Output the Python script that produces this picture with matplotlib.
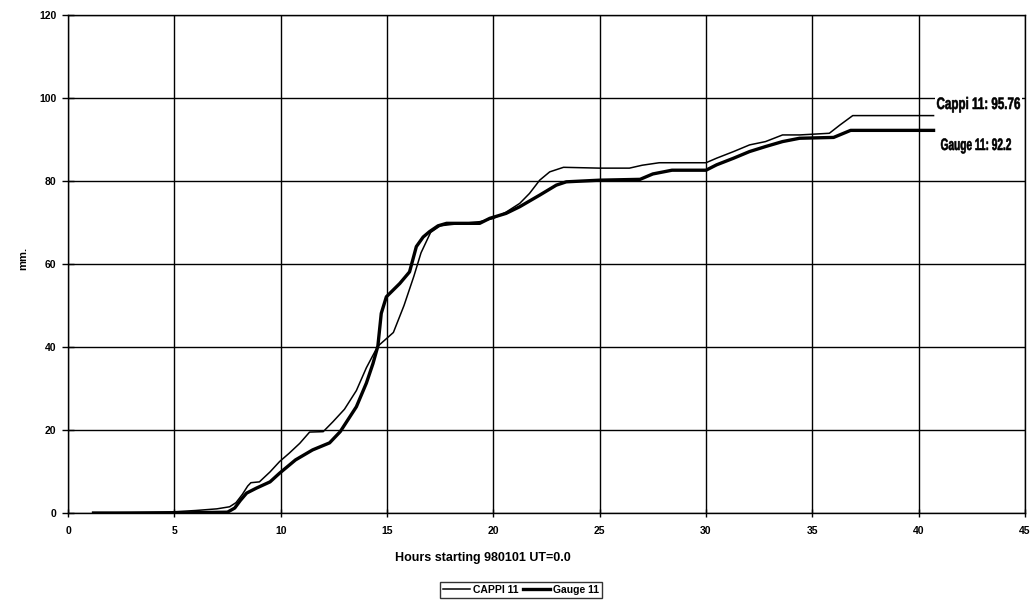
import matplotlib
matplotlib.use("Agg")
import matplotlib.pyplot as plt
from matplotlib.textpath import TextPath
from matplotlib.patches import PathPatch, Rectangle
from matplotlib.font_manager import FontProperties
from matplotlib.transforms import Affine2D, IdentityTransform

# ---- data ----
cappi_hours = [1.2, 3.0, 5.0, 6.0, 7.0, 7.6, 7.9, 8.2, 8.45, 8.6, 9.0, 9.5, 9.95, 10.4,
               10.9, 11.36, 12.0, 12.46, 13.0, 13.56, 14.03, 14.34, 14.57, 14.97, 15.3,
               15.8, 16.26, 16.6, 17.05, 17.5, 18.0, 19.36, 20.0, 20.6, 21.24, 21.7,
               22.18, 22.65, 23.3, 25.0, 26.4, 27.0, 27.8, 30.0, 30.5, 31.3, 32.05,
               32.8, 33.6, 34.4, 35.8, 36.3, 36.9, 40.7]
cappi_mm = [0, 0.1, 0.3, 0.6, 1.0, 1.5, 2.5, 4.5, 6.5, 7.3, 7.5, 9.9, 12.4, 14.4,
            16.8, 19.5, 19.6, 22.0, 25.0, 29.5, 35.0, 38.0, 40.2, 42.0, 43.5,
            50.0, 57.0, 62.7, 67.6, 69.2, 69.5, 70.2, 71.0, 72.5, 74.6, 77.0,
            80.2, 82.2, 83.3, 83.1, 83.1, 83.8, 84.4, 84.4, 85.5, 87.1, 88.7,
            89.5, 91.1, 91.1, 91.5, 93.5, 95.76, 95.76]

gauge_hours = [1.2, 5.0, 7.5, 7.84, 8.1, 8.4, 8.86, 9.5, 9.95, 10.7, 11.5, 12.3, 12.8,
               13.56, 14.03, 14.34, 14.57, 14.73, 14.97, 15.6, 16.06, 16.38, 16.7, 17.0,
               17.4, 17.8, 19.36, 19.83, 20.6, 21.24, 22.18, 22.96, 23.43, 25.0, 26.9,
               27.5, 28.4, 30.0, 30.5, 31.3, 32.05, 32.8, 33.6, 34.4, 36.0, 36.8, 40.7]
gauge_mm = [0, 0, 0.2, 1.2, 3.0, 4.8, 6.0, 7.5, 9.6, 12.8, 15.2, 16.9, 19.6,
            25.6, 31.3, 36.0, 40.2, 48.1, 52.1, 55.3, 58.1, 64.2, 66.5, 67.8,
            69.2, 69.8, 69.8, 71.0, 72.2, 73.8, 76.6, 79.0, 79.8, 80.2, 80.4,
            81.7, 82.6, 82.6, 83.9, 85.5, 87.1, 88.3, 89.5, 90.3, 90.5, 92.2, 92.2]

series_names = ["CAPPI 11", "Gauge 11"]
end_labels = ["Cappi 11: 95.76", "Gauge 11: 92.2"]
x_ticks = [0, 5, 10, 15, 20, 25, 30, 35, 40, 45]
y_ticks = [0, 20, 40, 60, 80, 100, 120]
x_label = "Hours starting 980101 UT=0.0"
y_label = "mm."

# ---- figure ----
W, H = 1033, 609
fig = plt.figure(figsize=(W / 100, H / 100), dpi=100)
ax = fig.add_axes([68 / W, (H - 513) / H, (1025 - 68) / W, (513 - 15) / H])

ax.plot(cappi_hours, cappi_mm, color="black", lw=1.1, label=series_names[0],
        solid_joinstyle="round")
ax.plot(gauge_hours, gauge_mm, color="black", lw=2.4, label=series_names[1],
        solid_joinstyle="round")

ax.set_xlim(0, 45)
ax.set_ylim(0, 120)
ax.set_xticks(x_ticks)
ax.set_yticks(y_ticks)
ax.grid(True, color="black", lw=1.0)
ax.set_axisbelow(True)
for s in ax.spines.values():
    s.set_color("black")
    s.set_linewidth(1.0)
ax.tick_params(axis="y", direction="inout", length=9, width=1.0, pad=4)
ax.tick_params(axis="x", direction="inout", length=6, width=1.0, pad=6)
for lab in ax.get_xticklabels() + ax.get_yticklabels():
    lab.set_fontfamily("Liberation Sans")
    lab.set_fontweight("bold")
    lab.set_fontsize(7.5)

# condensed end-of-line labels (drawn as squeezed text outlines)
fp = FontProperties(family="Liberation Sans", weight="bold")


def squeezed_label(s, left_px, cap_top_px, width_px, cap_px):
    tp = TextPath((0, 0), s, size=100, prop=fp)
    ext = tp.get_extents()
    sy = cap_px / 72.0
    sx = width_px / ext.width
    base = H - (cap_top_px + cap_px)
    bg = Rectangle((left_px - 2, base - 0.23 * 100 * sy), width_px + 4,
                   cap_px + 0.23 * 100 * sy + 2, transform=IdentityTransform(),
                   facecolor="white", edgecolor="none", zorder=3)
    fig.add_artist(bg)
    tr = Affine2D().translate(-ext.x0, 0).scale(sx, sy).translate(left_px, base)
    fig.add_artist(PathPatch(tp, transform=tr, facecolor="black",
                             edgecolor="black", lw=0.4, zorder=4))


squeezed_label(end_labels[0], 937, 97, 83, 12)
squeezed_label(end_labels[1], 941, 138, 70, 12)

fig.text(483 / W, 1 - 558 / H, x_label, ha="center", va="center",
         fontsize=9, fontweight="bold", family="Liberation Sans")
fig.text(23 / W, 1 - 258 / H, y_label, ha="center", va="center", rotation=90,
         fontsize=8, fontweight="bold", family="Liberation Sans")

leg = fig.legend(loc="center", bbox_to_anchor=(521 / W, 1 - 590 / H), ncol=2,
                 frameon=True, fancybox=False, handlelength=2.6, handletextpad=0.3,
                 columnspacing=0.4, borderpad=0.25, borderaxespad=0,
                 prop={"family": "Liberation Sans", "weight": "bold", "size": 7.5})
leg.get_frame().set_edgecolor("black")
leg.get_frame().set_linewidth(1.0)

fig.savefig("out.png", dpi=100)
